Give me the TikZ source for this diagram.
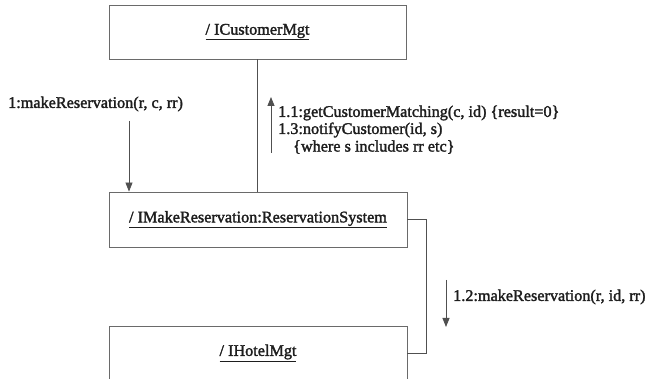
\documentclass[tikz,border=0pt]{standalone}
\usepackage{fontspec}
\usetikzlibrary{arrows.meta}
\newfontfamily\lblfont{Liberation Serif}[FakeBold=1.8]
\definecolor{ink}{HTML}{1E1E1E}
\definecolor{wire}{HTML}{505050}
\definecolor{frame}{HTML}{6A6A6A}
\begin{document}
\begin{tikzpicture}[x=1pt,y=-1pt,
  every node/.style={font=\lblfont\fontsize{16.2}{19}\selectfont, text=ink},
  objbox/.style={draw=frame, line width=0.9pt, minimum width=297pt, inner sep=0pt},
  msg/.style={anchor=west, inner sep=0pt},
  link/.style={draw=wire, line width=0.8pt},
  flow/.style={link, -{Triangle[length=9pt,width=7pt]}}]
\useasboundingbox (0,0) rectangle (654,379);
\clip (0,0) rectangle (654,379);
\fill[white] (0,0) rectangle (654,379);

% collaborating objects
\node[objbox, minimum height=54pt] (cust) at (257.5,32) {\underline{/ ICustomerMgt}};
\node[objbox, minimum width=298pt, minimum height=55pt] (resv) at (258,219.5) {\underline{/ IMakeReservation:ReservationSystem}};
\node[objbox, minimum width=298pt, minimum height=54pt] (hotel) at (258,353) {\underline{/ IHotelMgt}};

% links between objects
\draw[link] (cust.south) -- (cust.south |- resv.north);
\coordinate (turn) at (426,0);
\draw[link] (resv.east) -| (turn |- hotel.east) -- (hotel.east);

% message arrows
\coordinate (m1) at (129,121);
\draw[flow] (m1) -- (m1 |- resv.north);
\coordinate (m11a) at (271,153);
\coordinate (m11b) at (271,97);
\draw[flow] (m11a) -- (m11b);
\coordinate (m12a) at (446,280);
\coordinate (m12b) at (446,327);
\draw[flow] (m12a) -- (m12b);

% message labels
\node[msg] (l1) at (8,104) {1:makeReservation(r, c, rr)};
\node[msg] (l11) at (278,113) {1.1:getCustomerMatching(c, id) \{result=0\}};
\node[msg] (l13) at (278,130) {1.3:notifyCustomer(id, s)};
\node[msg] (l13b) at (293,147) {\{where s includes rr etc\}};
\node[msg] (l12) at (453,297) {1.2:makeReservation(r, id, rr)};
\end{tikzpicture}
\end{document}
